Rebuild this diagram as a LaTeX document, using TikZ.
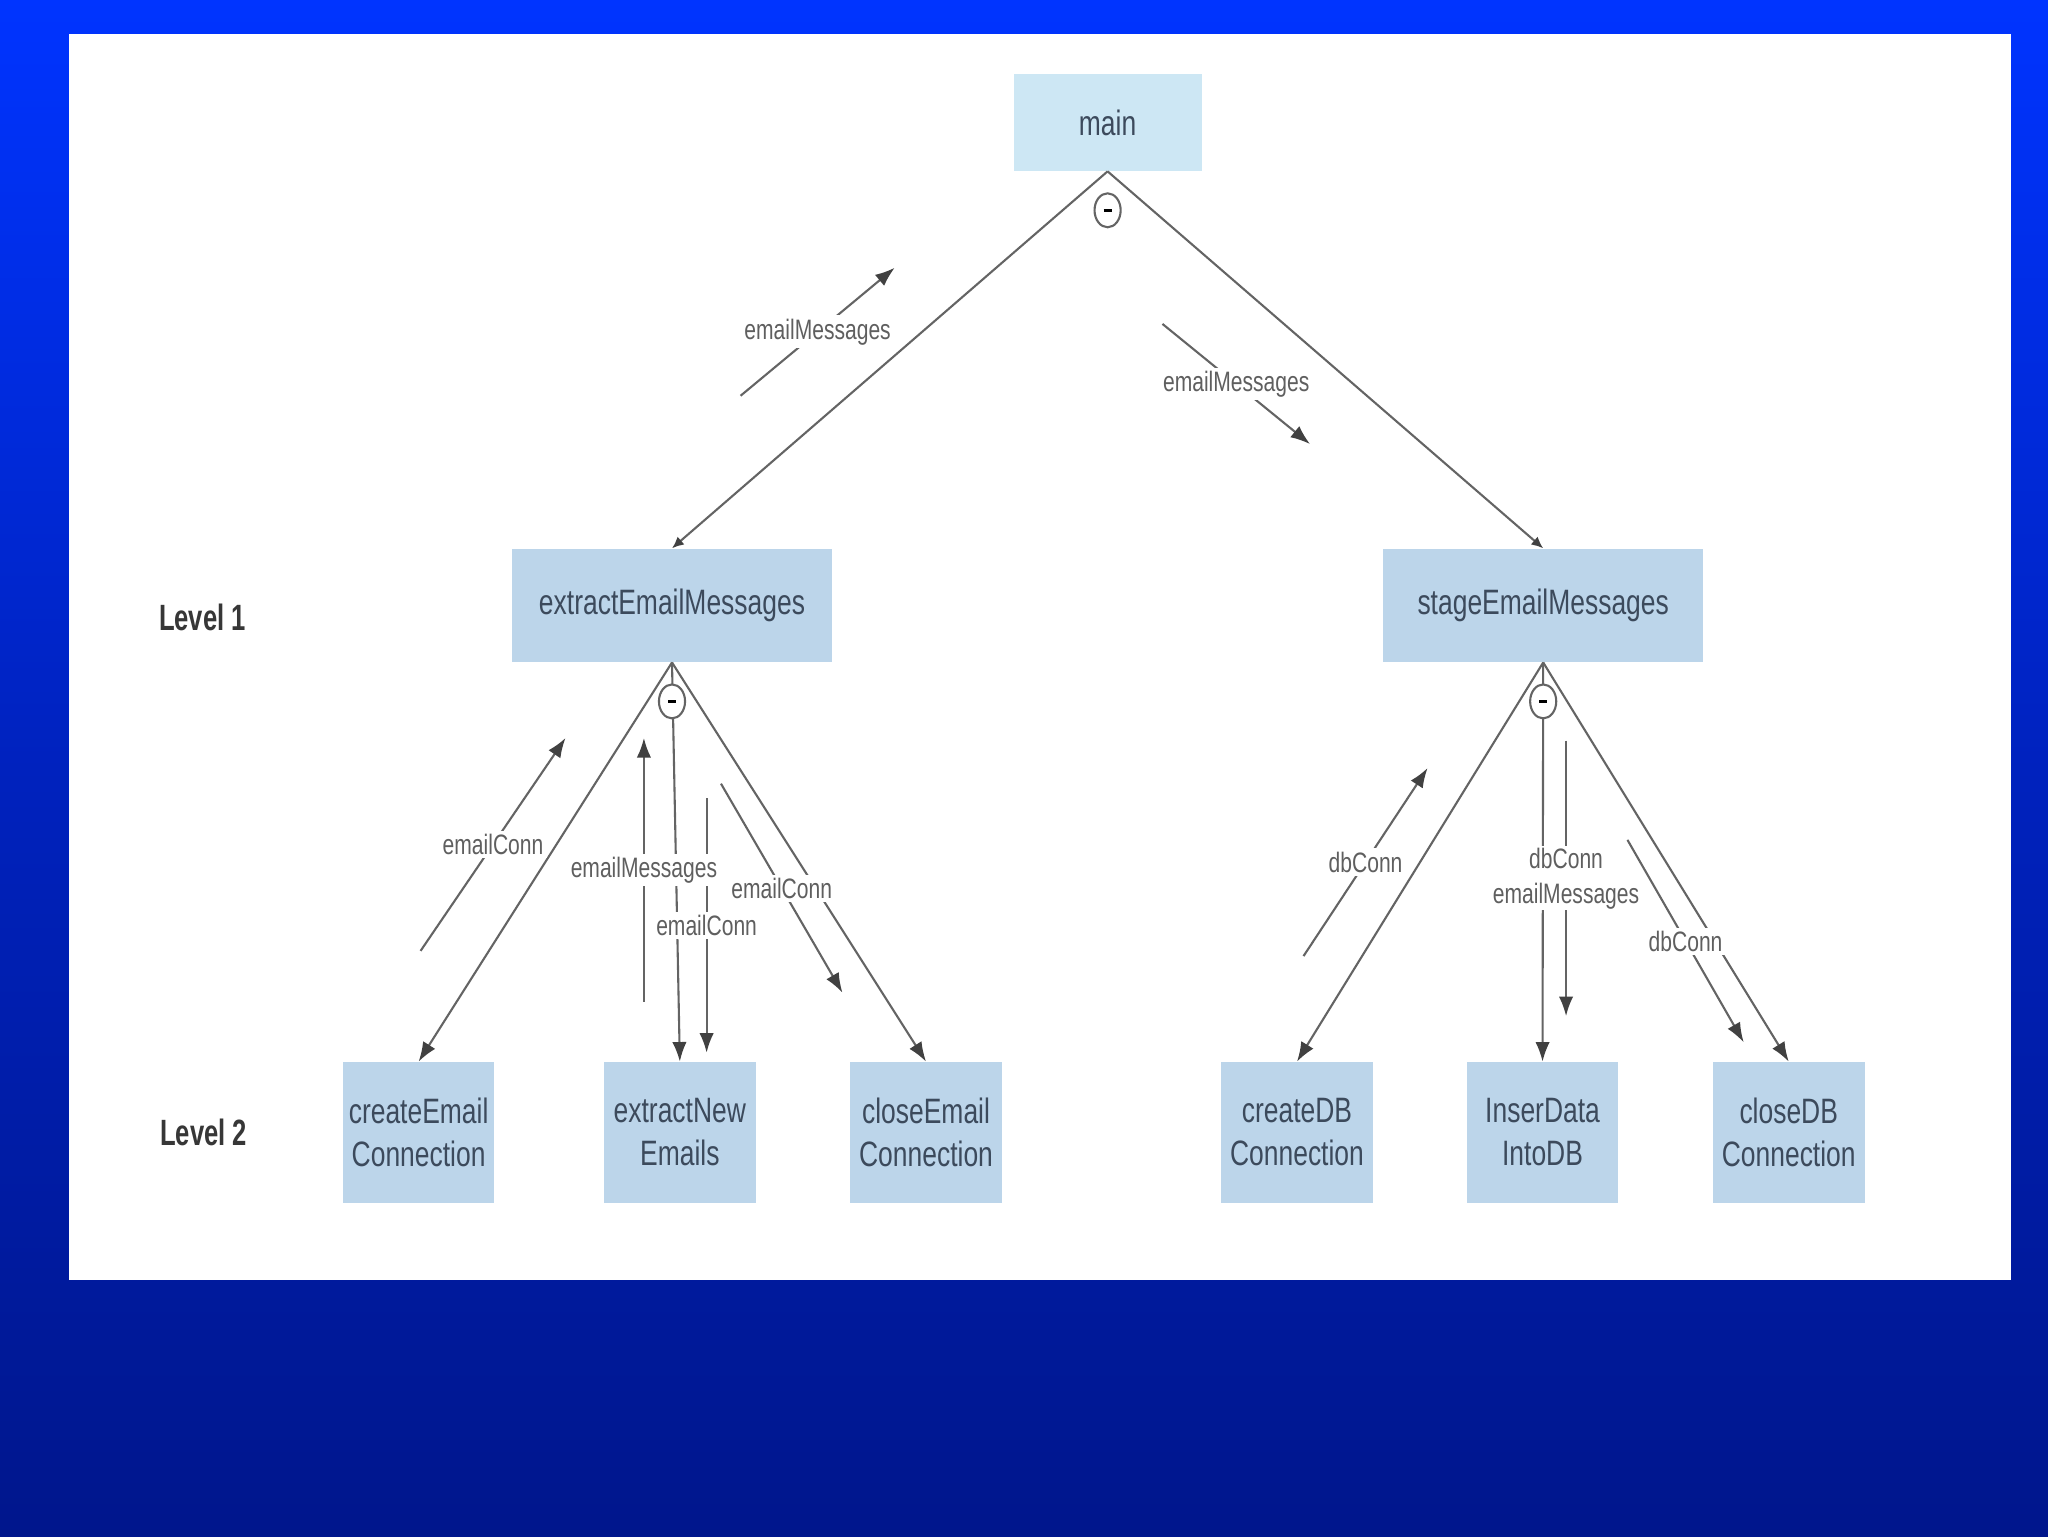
\documentclass[tikz,border=0pt]{standalone}
\usepackage{fontspec}
\setmainfont{Liberation Sans}
\newfontfamily\nar{Liberation Sans}[FakeStretch=0.75]
\newfontfamily\narb{Liberation Sans}[FakeStretch=0.7]
\usetikzlibrary{arrows.meta,calc,shapes.geometric}
\definecolor{bgtop}{RGB}{0,52,255}
\definecolor{bgmid}{RGB}{0,34,190}
\definecolor{bgbot}{RGB}{0,22,140}
\definecolor{boxa}{RGB}{205,231,244}
\definecolor{boxb}{RGB}{188,213,234}
\definecolor{boxtext}{RGB}{60,74,92}
\definecolor{lbltext}{RGB}{95,95,95}
\definecolor{linec}{RGB}{100,100,100}
\definecolor{tipc}{RGB}{65,65,65}
\definecolor{lvltext}{RGB}{55,55,55}
\tikzset{
  box/.style={draw=none, inner sep=0pt, text=boxtext, font=\nar\fontsize{27}{33}\selectfont, align=center},
  topbox/.style={box, fill=boxa, minimum width=144pt, minimum height=74pt},
  lonebox/.style={box, fill=boxb, minimum width=245pt, minimum height=87pt},
  ltwobox/.style={box, fill=boxb, minimum width=116pt, minimum height=108pt},
  ctl/.style={draw=linec, line width=1.6pt},
  ctlsmall/.style={ctl, -{Latex[length=9pt,width=8pt,color=tipc]}},
  ctlbig/.style={ctl, -{Latex[length=15pt,width=11pt,color=tipc]}},
  flow/.style={ctl, -{Latex[length=15pt,width=11pt,color=tipc]}},
  lbl/.style={fill=white, inner sep=2.5pt, text=lbltext, font=\nar\fontsize{21.5}{27}\selectfont, align=center},
  minusnode/.style={ellipse, draw=linec, line width=1.6pt, fill=white, minimum width=20pt, minimum height=26pt, inner sep=0pt},
  lvl/.style={text=lvltext, font=\narb\bfseries\fontsize{28}{32}\selectfont}
}
\begin{document}
\begin{tikzpicture}[x=1pt,y=-1pt]
% background
\path[top color=bgtop, bottom color=bgbot, middle color=bgmid] (0,0) rectangle (1568,1176);
\useasboundingbox (0,0) rectangle (1568,1176);
\fill[white] (53,26) rectangle (1540,980);

% nodes
\node[topbox] (main) at (848,94) {main};
\node[lonebox] (extract) at (514.5,463.5) {extractEmailMessages};
\node[lonebox] (stage) at (1181.5,463.5) {stageEmailMessages};
\node[lvl] (lv1) at (155,473) {Level 1};
\node[lvl] (lv2) at (156,867) {Level 2};
\node[ltwobox] (cec) at (320.5,867) {createEmail\\Connection};
\node[ltwobox] (ene) at (520.5,867) {extractNew\\Emails};
\node[ltwobox] (clec) at (709,867) {closeEmail\\Connection};
\node[ltwobox] (cdb) at (993,867) {createDB\\Connection};
\node[ltwobox] (idb) at (1181,867) {InserData\\IntoDB};
\node[ltwobox] (cldb) at (1369.5,867) {closeDB\\Connection};

% control lines
\draw[ctlsmall] (main.south) -- (extract.north);
\draw[ctlsmall] (main.south) -- (stage.north);
\draw[ctlbig] (extract.south) -- (cec.north);
\draw[ctlbig] (extract.south) -- (ene.north);
\draw[ctlbig] (extract.south) -- (clec.north);
\draw[ctlbig] (stage.south) -- (cdb.north);
\draw[ctlbig] (stage.south) -- (idb.north);
\draw[ctlbig] (stage.south) -- (cldb.north);

% selection markers
\node[minusnode] (m0) at (848,161) {\rule{6pt}{2.2pt}};
\node[minusnode] (m1) at (514.5,537) {\rule{6pt}{2.2pt}};
\node[minusnode] (m2) at (1181.5,537) {\rule{6pt}{2.2pt}};

% data flow coordinates
\coordinate (a1) at (567,303);  \coordinate (b1) at (685,205);
\coordinate (a2) at (890,248);  \coordinate (b2) at (1003,340);
\coordinate (a3) at (322,728);  \coordinate (b3) at (433,565);
\coordinate (a4) at (493,767);  \coordinate (b4) at (493,565);
\coordinate (a5) at (541,611);  \coordinate (b5) at (541,806);
\coordinate (a6) at (552,600);  \coordinate (b6) at (645,760);
\coordinate (a7) at (998,732);  \coordinate (b7) at (1093,588);
\coordinate (a8) at (1199,567); \coordinate (b8) at (1199,778);
\coordinate (a9) at (1246,643); \coordinate (b9) at (1335,798);

\foreach \i in {1,...,8} \draw[flow] (a\i) -- (b\i);

% labels (on top of the lines they cross)
\node[lbl] (t1) at ($(a1)!0.5!(b1)$) {emailMessages};
\node[lbl] (t2) at ($(a2)!0.5!(b2)$) {emailMessages};
\node[lbl] (t3) at ($(a3)!0.5!(b3)$) {emailConn};
\node[lbl] (t4) at ($(a4)!0.5!(b4)$) {emailMessages};
\node[lbl] (t5) at ($(a5)!0.5!(b5)$) {emailConn};
\node[lbl] (t6) at ($(a6)!0.5!(b6)$) {emailConn};
\node[lbl] (t7) at ($(a7)!0.5!(b7)$) {dbConn};
\node[lbl, inner sep=1pt] (t8) at ($(a8)!0.5!(b8)$) {dbConn\\emailMessages};

\draw[flow] (a9) -- (b9);
\node[lbl] (t9) at ($(a9)!0.5!(b9)$) {dbConn};
\end{tikzpicture}
\end{document}
